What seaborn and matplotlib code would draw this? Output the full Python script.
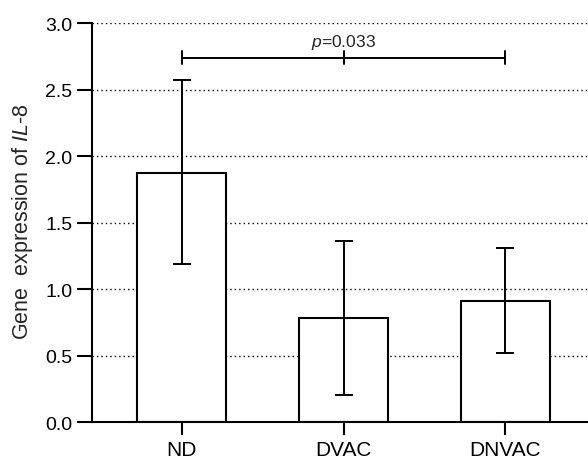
import matplotlib
matplotlib.use("Agg")
import matplotlib.pyplot as plt
import seaborn as sns
import pandas as pd

groups = ["ND", "DVAC", "DNVAC"]
means = [1.875, 0.78, 0.91]
err_upper = [2.57, 1.36, 1.31]
err_lower = [1.19, 0.20, 0.52]
y_ticks = [0.0, 0.5, 1.0, 1.5, 2.0, 2.5, 3.0]
p_text = r"$\mathit{p}$=0.033"
sig_pair = ("ND", "DNVAC")
sig_level = 2.74

sns.set_style("white")
plt.rcParams["font.family"] = ["Liberation Sans", "DejaVu Sans"]
plt.rcParams["mathtext.fontset"] = "custom"
plt.rcParams["mathtext.it"] = "Liberation Sans:italic"
plt.rcParams["mathtext.rm"] = "Liberation Sans"

df = pd.DataFrame({"group": groups, "mean": means})

fig = plt.figure(figsize=(5.88, 4.6), dpi=100)
ax = fig.add_axes([0.156, 0.0804, 0.844, 0.8674])

sns.barplot(data=df, x="group", y="mean", ax=ax, color="white",
            edgecolor="black", linewidth=1.5, width=0.55, zorder=2)

xs = list(range(len(groups)))
yerr = [[m - lo for m, lo in zip(means, err_lower)],
        [hi - m for m, hi in zip(means, err_upper)]]
ax.errorbar(xs, means, yerr=yerr, fmt="none", ecolor="black",
            elinewidth=1.4, capsize=6.5, capthick=1.4, zorder=3)

ax.set_ylim(0, 3.0)
ax.set_xlim(-0.556, 2.51)
ax.set_yticks(y_ticks)
ax.set_yticklabels([f"{t:.1f}" for t in y_ticks])
for t in y_ticks[1:]:
    ax.axhline(t, color="black", linestyle=(0, (1, 2.2)), linewidth=1.0, zorder=0)

for side in ["top", "right"]:
    ax.spines[side].set_visible(False)
for side in ["left", "bottom"]:
    ax.spines[side].set_linewidth(1.5)
    ax.spines[side].set_color("black")

ax.tick_params(axis="y", direction="out", length=11, width=1.5, pad=3,
               labelsize=14, colors="black", left=True)
ax.tick_params(axis="x", direction="out", length=9, width=1.5, pad=4,
               labelsize=15, colors="black", bottom=True)
ax.set_xlabel("")
ax.set_ylabel(r"Gene  expression of $\mathit{IL}$-$\mathit{8}$", fontsize=15.5)
ax.yaxis.set_label_coords(-0.115, 0.505)

# significance bracket
x1 = groups.index(sig_pair[0])
x2 = groups.index(sig_pair[1])
xm = (x1 + x2) / 2
h = 0.049
ax.plot([x1, x2], [sig_level, sig_level], color="black", lw=1.4, clip_on=False)
for xx in (x1, xm, x2):
    ax.plot([xx, xx], [sig_level - h, sig_level + h], color="black", lw=1.4, clip_on=False)
ax.text(xm, 2.827, p_text, ha="center", va="baseline", fontsize=12.5)

fig.savefig("out.png", dpi=100)
